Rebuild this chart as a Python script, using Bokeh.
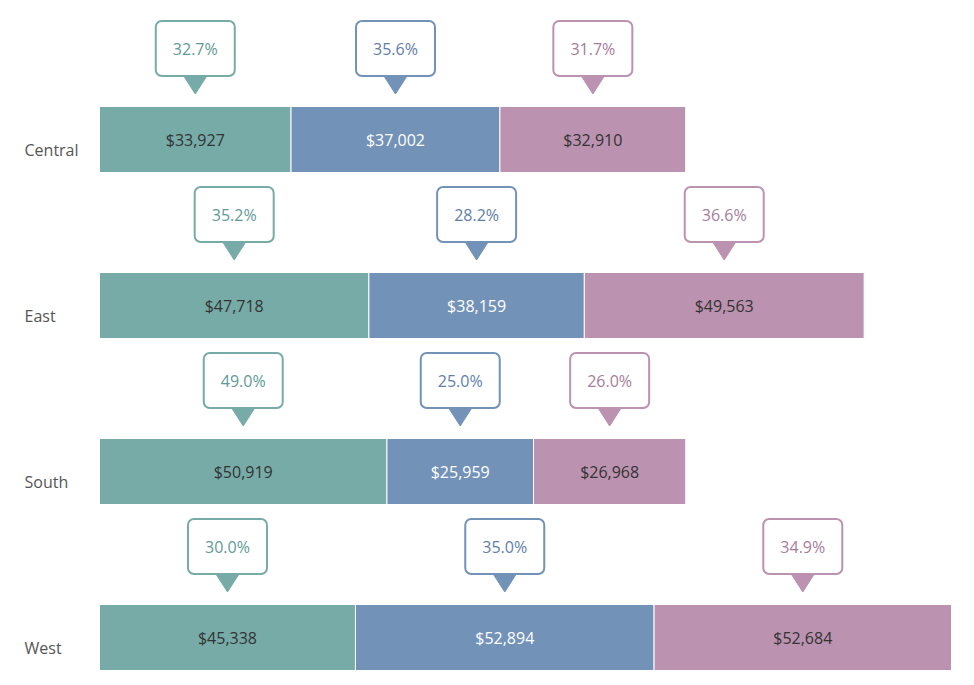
from bokeh.plotting import figure
from bokeh.models import Range1d, ColumnDataSource
from bokeh.core.properties import value
from bokeh.embed import file_html
from bokeh.resources import INLINE

regions = ["Central", "East", "South", "West"]
seg1_sales = [33927, 47718, 50919, 45338]
seg2_sales = [37002, 38159, 25959, 52894]
seg3_sales = [32910, 49563, 26968, 52684]
seg1_pct = ["32.7%", "35.2%", "49.0%", "30.0%"]
seg2_pct = ["35.6%", "28.2%", "25.0%", "35.0%"]
seg3_pct = ["31.7%", "36.6%", "26.0%", "34.9%"]

colors = ["#76aba7", "#7392b8", "#bb92b0"]
pct_colors = ["#5f9a96", "#5f7ea8", "#a57d9b"]
value_colors = ["#333333", "#ffffff", "#333333"]

W, H = 960, 674
max_total = max(a + b + c for a, b, c in zip(seg1_sales, seg2_sales, seg3_sales))
s = 852.0 / max_total          # px per dollar
u = 166.0                      # px per row
x_start = -99.0 / s
y_top = -139.0 / u

p = figure(width=W, height=H, output_backend="svg", toolbar_location=None,
           x_axis_type=None, y_axis_type=None, min_border=0,
           x_range=Range1d(x_start, x_start + W / s),
           y_range=Range1d(y_top + H / u, y_top))
p.outline_line_color = None
p.grid.visible = False
p.background_fill_color = "white"

font = value("Open Sans")
series = [seg1_sales, seg2_sales, seg3_sales]
pcts = [seg1_pct, seg2_pct, seg3_pct]
bh = 66.0 / u

for k in range(3):
    lefts, rights, ys = [], [], []
    for i in range(len(regions)):
        left = sum(series[j][i] for j in range(k))
        lefts.append(left)
        rights.append(left + series[k][i])
        ys.append(i)
    cx = [(l + r) / 2 for l, r in zip(lefts, rights)]
    src = ColumnDataSource(dict(
        left=lefts, right=rights, top=[y - bh / 2 for y in ys], bottom=[y + bh / 2 for y in ys],
        cx=cx, y=ys, lab=["${:,}".format(v) for v in series[k]], pct=pcts[k],
        btop=[y - 118.5 / u for y in ys], bbot=[y - 63.5 / u for y in ys],
        bl=[c - 39.5 / s for c in cx], br=[c + 39.5 / s for c in cx],
        ty=[y - 91.0 / u for y in ys],
    ))
    p.quad(left="left", right="right", top="top", bottom="bottom", source=src,
           fill_color=colors[k], line_color="white", line_width=1)
    p.text(x="cx", y="y", text="lab", source=src, text_align="center", text_baseline="middle",
           text_font=font, text_font_size="16px", text_color=value_colors[k])
    # pointer triangles
    xs_t, ys_t = [], []
    for c, y in zip(cx, ys):
        xs_t.append([c - 12.5 / s, c + 12.5 / s, c])
        ys_t.append([y - 65 / u, y - 65 / u, y - 45.5 / u])
    p.patches(xs_t, ys_t, fill_color=colors[k], line_color=colors[k], line_width=1)
    p.quad(left="bl", right="br", top="btop", bottom="bbot", source=src,
           fill_color="white", line_color=colors[k], line_width=2, border_radius=6)
    p.text(x="cx", y="ty", text="pct", source=src, text_align="center", text_baseline="middle",
           text_font=font, text_font_size="16px", text_color=pct_colors[k])

p.text(x=[x_start + 24 / s] * len(regions), y=[i + 10 / u for i in range(len(regions))], text=regions,
       text_align="left", text_baseline="middle", text_font=font, text_font_size="16px",
       text_color="#555555")

open("out.html", "w").write(file_html(p, INLINE))
